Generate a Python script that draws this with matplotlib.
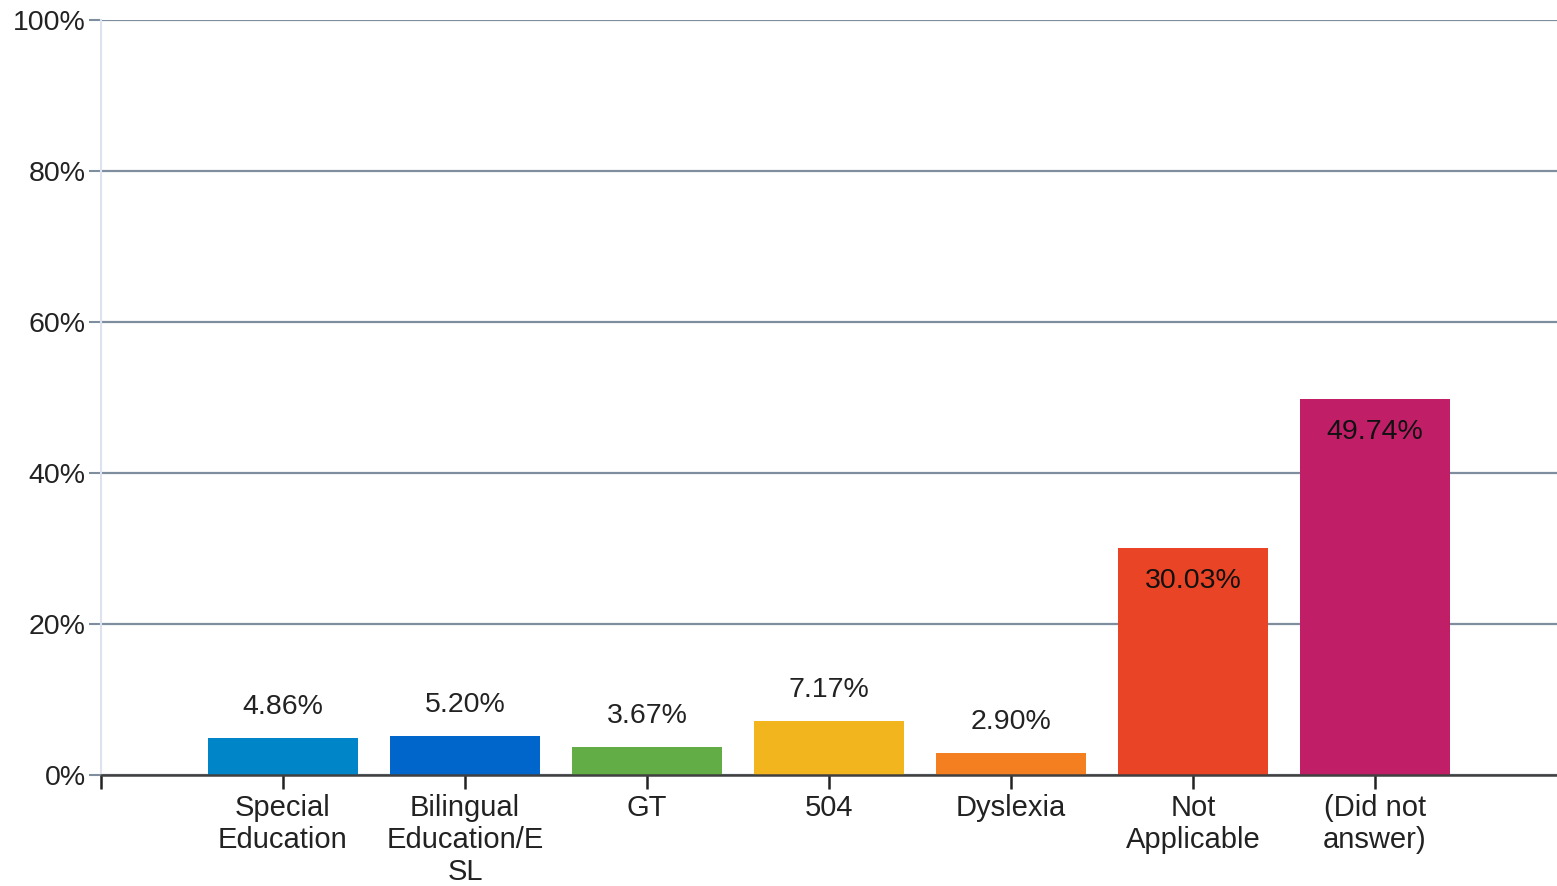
import matplotlib
matplotlib.use("Agg")
import matplotlib.pyplot as plt
import numpy as np

plt.rcParams['font.family'] = ['Liberation Sans', 'DejaVu Sans']

categories = ["Special\nEducation", "Bilingual\nEducation/E\nSL", "GT", "504",
              "Dyslexia", "Not\nApplicable", "(Did not\nanswer)"]
values = [4.86, 5.20, 3.67, 7.17, 2.90, 30.03, 49.74]
colors = ["#0085c8", "#0066cc", "#62ad46", "#f2b51d", "#f47f20", "#e84425", "#c01f68"]

fig = plt.figure(figsize=(15.57, 8.86), dpi=100)
ax = fig.add_axes([101 / 1557, 1 - 775 / 886, 1 - 101 / 1557, (775 - 20) / 886])

x = np.arange(1, len(values) + 1)
bars = ax.bar(x, values, width=0.82, color=colors, zorder=3)

for xi, v in zip(x, values):
    if v > 20:
        ax.text(xi, v - 2.6, "%.2f%%" % v, ha="center", va="top", fontsize=20.5, color="#111111", zorder=4)
    else:
        ax.text(xi, v + 2.4, "%.2f%%" % v, ha="center", va="bottom", fontsize=20.5, color="#222222", zorder=4)

ax.set_xlim(0, 8)
ax.set_ylim(0, 100)
ax.set_yticks(range(0, 101, 20))
ax.set_yticklabels(["%d%%" % t for t in range(0, 101, 20)], fontsize=20.5, color="#222222")
ax.set_xticks(range(0, 8))
ax.set_xticklabels([""] + categories, fontsize=21, color="#222222", linespacing=1.18)

ax.grid(axis="y", color="#7f8e9e", linewidth=1.6, zorder=1)
ax.tick_params(axis="y", length=9, color="#7f8e9e", width=1.5, pad=2)
ax.tick_params(axis="x", length=10, color="#222222", width=1.8, pad=4)

for s in ["top", "right"]:
    ax.spines[s].set_visible(False)
ax.spines["left"].set_color("#dde3ee")
ax.spines["left"].set_linewidth(1.5)
ax.spines["bottom"].set_color("#404040")
ax.spines["bottom"].set_linewidth(1.8)
ax.spines["bottom"].set_zorder(5)

fig.savefig("out.png", dpi=100)
